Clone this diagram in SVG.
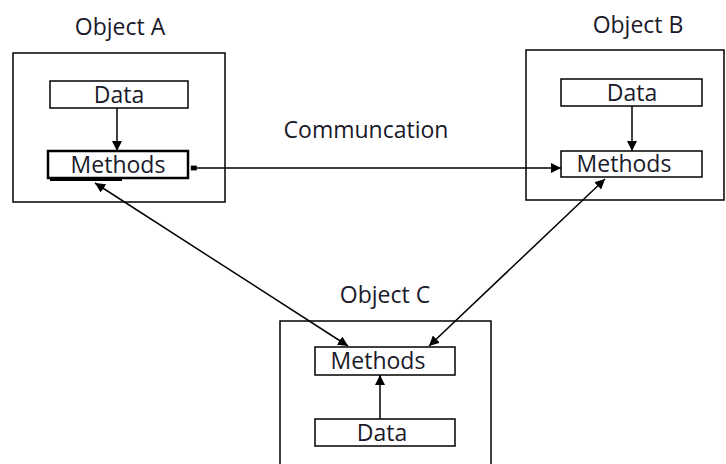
<svg xmlns="http://www.w3.org/2000/svg" width="726" height="464" viewBox="0 0 726 464">
<style>
.obj{fill:#fff;stroke:#000;stroke-width:1.5}
.box{fill:#fff;stroke:#000;stroke-width:1.5}
.t{font-family:"Open Sans","Liberation Sans",sans-serif;font-size:23px;fill:#1a1a2a;text-anchor:middle}
.c{stroke:#000;stroke-width:1.5;fill:none}
</style>
<defs>
<marker id="ah" viewBox="0 0 10 10" refX="10" refY="5" markerWidth="10" markerHeight="10" markerUnits="userSpaceOnUse" orient="auto-start-reverse">
<path d="M0,0 L10,5 L0,10 z" fill="#000"/>
</marker>
<marker id="sq" viewBox="0 0 10 10" refX="2" refY="5" markerWidth="8" markerHeight="6" markerUnits="userSpaceOnUse" orient="auto">
<rect x="0" y="1" width="10" height="8" fill="#000"/>
</marker>
</defs>
<g id="objectA">
<text class="t" x="120" y="35">Object A</text>
<rect class="obj" x="13" y="53" width="212" height="149"/>
<g id="dataA"><rect class="box" x="50" y="81" width="138" height="27"/><text class="t" x="119" y="103">Data</text></g>
<g id="methodsA"><rect x="48" y="151" width="140" height="27" fill="#fff" stroke="#000" stroke-width="2.5"/><line x1="50" y1="180" x2="122" y2="180" stroke="#000" stroke-width="2"/><text class="t" x="118" y="173">Methods</text></g>
</g>
<g id="objectB">
<text class="t" x="638" y="33">Object B</text>
<rect class="obj" x="526" y="50" width="198" height="150"/>
<g id="dataB"><rect class="box" x="561" y="79" width="141" height="27"/><text class="t" x="632" y="101">Data</text></g>
<g id="methodsB"><rect class="box" x="561" y="151" width="141" height="26" /><text class="t" x="624" y="172">Methods</text></g>
</g>
<g id="objectC">
<text class="t" x="385" y="303">Object C</text>
<rect class="obj" x="280" y="321" width="211" height="150"/>
<g id="methodsC"><rect class="box" x="315" y="347" width="140" height="28"/><text class="t" x="378" y="369">Methods</text></g>
<g id="dataC"><rect class="box" x="315" y="419" width="140" height="27"/><text class="t" x="382" y="441">Data</text></g>
</g>
<text class="t" x="366" y="138">Communcation</text>
<g id="connectors">
<line class="c" x1="117" y1="108" x2="117" y2="151" marker-end="url(#ah)"/>
<line class="c" x1="632" y1="106" x2="632" y2="151" marker-end="url(#ah)"/>
<line class="c" x1="380" y1="419" x2="380" y2="375" marker-end="url(#ah)"/>
<line class="c" x1="192" y1="168" x2="561" y2="168" marker-start="url(#sq)" marker-end="url(#ah)"/>
<line class="c" x1="95" y1="183" x2="348" y2="346" marker-start="url(#ah)" marker-end="url(#ah)"/>
<line class="c" x1="605" y1="179" x2="429" y2="346" marker-start="url(#ah)" marker-end="url(#ah)"/>
</g>
</svg>
